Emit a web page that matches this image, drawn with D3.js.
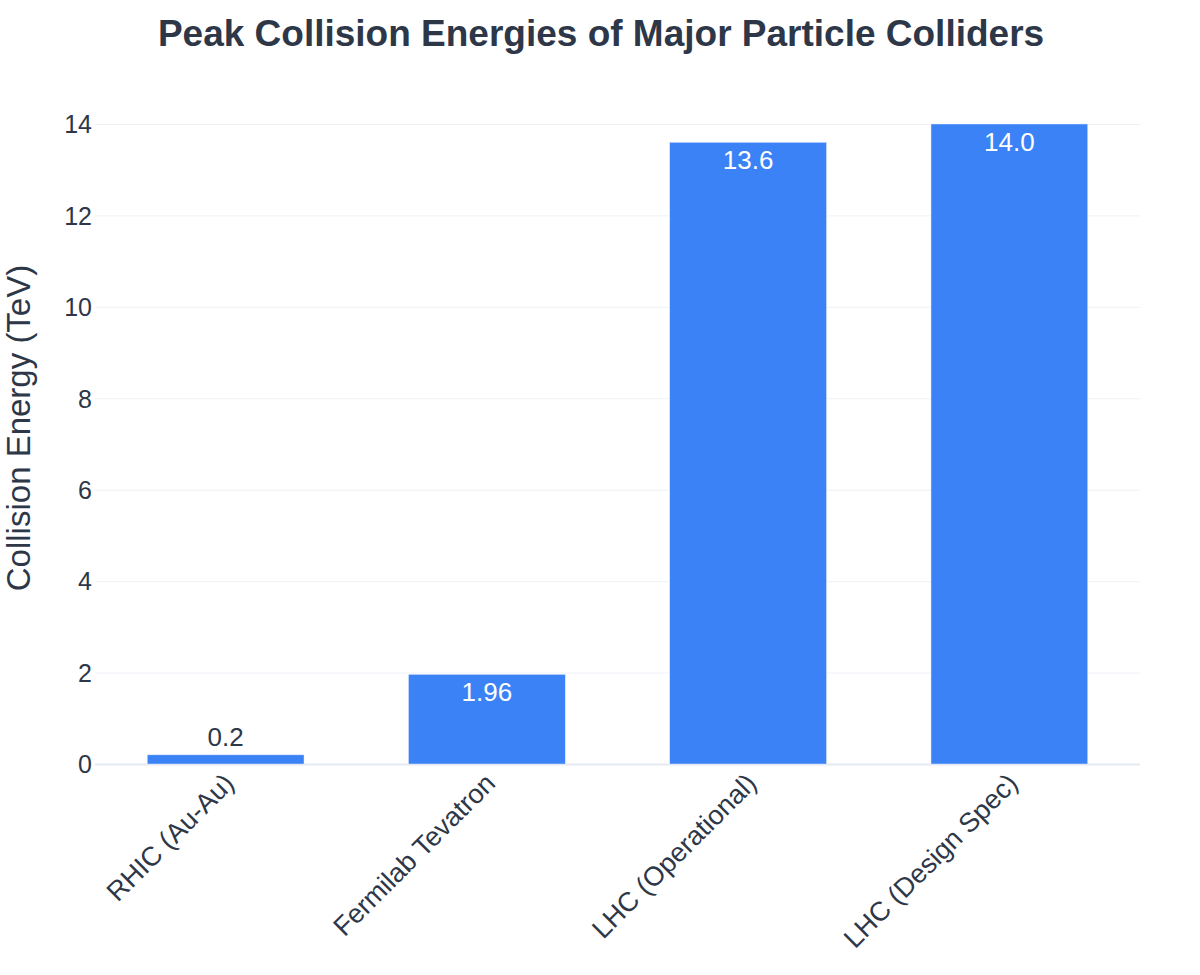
<!DOCTYPE html>
<html><head><meta charset="utf-8">
<script src="https://cdn.jsdelivr.net/npm/d3@7"></script>
<style>body{margin:0;background:#fff}svg{display:block;font-family:Arial,"Liberation Sans",sans-serif}</style>
</head><body>
<svg id="c" width="1200" height="975"></svg>
<script>
const categories = ["RHIC (Au-Au)", "Fermilab Tevatron", "LHC (Operational)", "LHC (Design Spec)"];
const values = [0.2, 1.96, 13.6, 14.0];
const valueLabels = ["0.2", "1.96", "13.6", "14.0"];
const yTicks = [0, 2, 4, 6, 8, 10, 12, 14];
const titleText = "Peak Collision Energies of Major Particle Colliders";
const yTitle = "Collision Energy (TeV)";

const svg = d3.select("#c");
const L = 95, R = 1140, T = 92, B = 764;
const textCol = "#2d3748";
const x = d3.scaleBand().domain(categories).range([L, R]).paddingInner(0.4).paddingOuter(0.2);
const y = d3.scaleLinear().domain([0, 14.7]).range([B, T]);

svg.append("text").attr("x", 601).attr("y", 46).attr("text-anchor", "middle")
  .attr("font-size", 37).attr("font-weight", "bold").attr("fill", textCol).text(titleText);

// grid
const yAxis = d3.axisLeft(y).tickValues(yTicks).tickSize(-(R - L)).tickPadding(3).tickFormat(d3.format("d"));
const gy = svg.append("g").attr("transform", `translate(${L},0)`).call(yAxis);
gy.select(".domain").remove();
gy.selectAll(".tick line").attr("stroke", "#eef2f7").attr("stroke-width", 1);
gy.selectAll(".tick").filter(d => d === 0).select("line").attr("stroke", "#e5eaf3").attr("stroke-width", 2);
gy.selectAll(".tick text").attr("font-size", 25).attr("fill", textCol).attr("x", -3).attr("dy", "0.35em");

// bars
svg.append("g").selectAll("rect").data(values).join("rect")
  .attr("x", (d, i) => x(categories[i])).attr("width", x.bandwidth())
  .attr("y", d => y(d)).attr("height", d => y(0) - y(d))
  .attr("fill", "#3b82f6").attr("stroke", "#dbe7fb").attr("stroke-width", 0.5);

// value labels
svg.append("g").selectAll("text").data(values).join("text")
  .attr("x", (d, i) => x(categories[i]) + x.bandwidth() / 2)
  .attr("y", d => (y(0) - y(d)) > 40 ? y(d) + 27 : y(d) - 9)
  .attr("text-anchor", "middle").attr("font-size", 26)
  .attr("fill", d => (y(0) - y(d)) > 40 ? "#ffffff" : textCol)
  .text((d, i) => valueLabels[i]);

// x axis labels
const xAxis = d3.axisBottom(x).tickSize(0).tickPadding(0);
const gx = svg.append("g").attr("transform", `translate(0,${B})`).call(xAxis);
gx.select(".domain").remove();
gx.selectAll(".tick text").attr("font-size", 27).attr("fill", textCol)
  .attr("text-anchor", "end").attr("dy", 0).attr("y", 0)
  .attr("transform", "translate(10,21) rotate(-45)");

svg.append("text").attr("transform", `translate(30,${(T + B) / 2}) rotate(-90)`)
  .attr("text-anchor", "middle").attr("font-size", 33).attr("fill", textCol).text(yTitle);
</script>
</body></html>
